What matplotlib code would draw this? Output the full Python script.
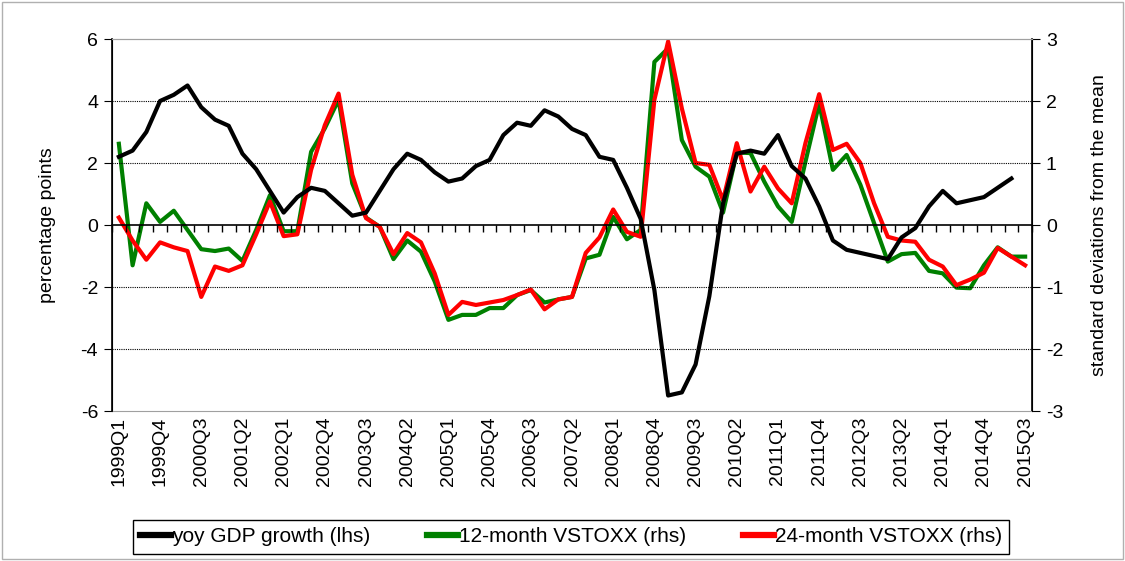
import numpy as np
import matplotlib
matplotlib.use('Agg')
import matplotlib.pyplot as plt
from matplotlib.patches import Rectangle

plt.rcParams['font.family'] = ['Liberation Sans', 'DejaVu Sans']
plt.rcParams['axes.unicode_minus'] = False

# quarters 1999Q1 .. 2015Q3
quarters = [f"{y}Q{q}" for y in range(1999, 2016) for q in range(1, 5)][:67]

# yoy GDP growth (lhs), ends 2015Q2
gdp = [2.2, 2.4, 3.0, 4.0, 4.2, 4.5, 3.8, 3.4, 3.2, 2.3,
       1.8, 1.1, 0.4, 0.9, 1.2, 1.1, 0.7, 0.3, 0.4, 1.1,
       1.8, 2.3, 2.1, 1.7, 1.4, 1.5, 1.9, 2.1, 2.9, 3.3,
       3.2, 3.7, 3.5, 3.1, 2.9, 2.2, 2.1, 1.2, 0.2, -2.1,
       -5.5, -5.4, -4.5, -2.3, 0.7, 2.3, 2.4, 2.3, 2.9, 1.9,
       1.5, 0.6, -0.5, -0.8, -0.9, -1.0, -1.1, -0.4, -0.1, 0.6,
       1.1, 0.7, 0.8, 0.9, 1.2, 1.5, np.nan]

# 12-month VSTOXX (rhs)
vstoxx12 = [1.31, -0.65, 0.35, 0.05, 0.23, -0.08, -0.39, -0.42, -0.38, -0.58,
            -0.08, 0.48, -0.10, -0.10, 1.18, 1.56, 2.02, 0.67, 0.12, -0.03,
            -0.55, -0.25, -0.43, -0.91, -1.53, -1.45, -1.45, -1.34, -1.34, -1.13,
            -1.05, -1.25, -1.20, -1.16, -0.54, -0.48, 0.13, -0.23, -0.08, 2.63,
            2.85, 1.37, 0.94, 0.78, 0.20, 1.17, 1.16, 0.70, 0.30, 0.05,
            1.02, 1.96, 0.89, 1.13, 0.65, 0.03, -0.59, -0.47, -0.45, -0.74,
            -0.78, -1.01, -1.02, -0.65, -0.36, -0.51, -0.51]

# 24-month VSTOXX (rhs)
vstoxx24 = [0.12, -0.25, -0.56, -0.28, -0.36, -0.42, -1.16, -0.67, -0.74, -0.65,
            -0.15, 0.38, -0.18, -0.15, 0.89, 1.61, 2.12, 0.81, 0.11, -0.03,
            -0.47, -0.13, -0.28, -0.78, -1.45, -1.24, -1.29, -1.25, -1.21, -1.13,
            -1.04, -1.36, -1.20, -1.16, -0.45, -0.20, 0.25, -0.11, -0.19, 2.02,
            2.96, 1.88, 1.00, 0.97, 0.40, 1.32, 0.54, 0.94, 0.59, 0.35,
            1.32, 2.11, 1.21, 1.31, 1.00, 0.35, -0.19, -0.25, -0.27, -0.56,
            -0.67, -0.97, -0.88, -0.77, -0.37, -0.51, -0.65]

x = np.arange(len(quarters))
FS = 14

fig = plt.figure(figsize=(11.25, 5.61), dpi=100)
ax = fig.add_axes([112/1125, 1-411/561, 920/1125, 372/561])
ax2 = ax.twinx()

# lines
ax2.plot(x, vstoxx12, color='#008000', lw=3, zorder=3)
ax2.plot(x, vstoxx24, color='#ff0000', lw=3, zorder=4)
ax.plot(x, gdp, color='black', lw=3, zorder=5)
ax.set_zorder(ax2.get_zorder() + 1)
ax.patch.set_visible(False)

ax.set_xlim(-0.5, len(quarters) - 0.5)
ax.set_ylim(-6, 6)
ax2.set_ylim(-3, 3)
ax.set_yticks(range(-6, 7, 2))
ax2.set_yticks(range(-3, 4))

# dotted grid
for v in [-4, -2, 2, 4]:
    ax.axhline(v, color='black', lw=0.8, ls=(0, (1, 1)), zorder=1)

# zero axis with category tick marks
ax.spines['bottom'].set_position(('data', 0))
ax.spines['bottom'].set_linewidth(1.2)
ax.set_xticks(np.arange(-0.5, len(quarters), 1))
ax.tick_params(axis='x', direction='out', length=5, width=1, labelbottom=False)

# labels at bottom
sec = ax.secondary_xaxis(0)
sec.set_xticks(x[::3], [quarters[i] for i in x[::3]], rotation=90)
sec.tick_params(length=0, labelsize=FS, pad=4)
sec.spines['bottom'].set_color('#a0a0a0')

ax.spines['top'].set_color('#a0a0a0')
ax2.spines['top'].set_color('#a0a0a0')
ax2.spines['bottom'].set_visible(False)
ax.spines['left'].set_linewidth(1.2)
ax2.spines['right'].set_linewidth(1.2)

ax.tick_params(axis='y', labelsize=FS, direction='out', length=6, pad=4)
ax2.tick_params(axis='y', labelsize=FS, direction='out', length=6, pad=4)
ax.set_ylabel('percentage points', fontsize=FS, labelpad=18)
ax2.set_ylabel('standard deviations from the mean', fontsize=FS, labelpad=20)

# legend
handles = [plt.Line2D([], [], color='black', lw=4.5),
           plt.Line2D([], [], color='#008000', lw=4.5),
           plt.Line2D([], [], color='#ff0000', lw=4.5)]
labels = ['yoy GDP growth (lhs)', '12-month VSTOXX (rhs)', '24-month VSTOXX (rhs)']
leg = fig.legend(handles, labels, ncol=3, loc='center',
                 bbox_to_anchor=(571/1125, 1-537/561), fontsize=15,
                 frameon=True, fancybox=False, edgecolor='black', framealpha=1,
                 handlelength=1.5, handletextpad=0.05, columnspacing=2.7,
                 borderpad=0.35, borderaxespad=0)
leg.get_frame().set_linewidth(1.0)

# outer border
fig.patches.append(Rectangle((0.002, 0.003), 0.996, 0.994, transform=fig.transFigure,
                             fill=False, edgecolor='#b0b0b0', lw=1))

fig.savefig('out.png', dpi=100)
